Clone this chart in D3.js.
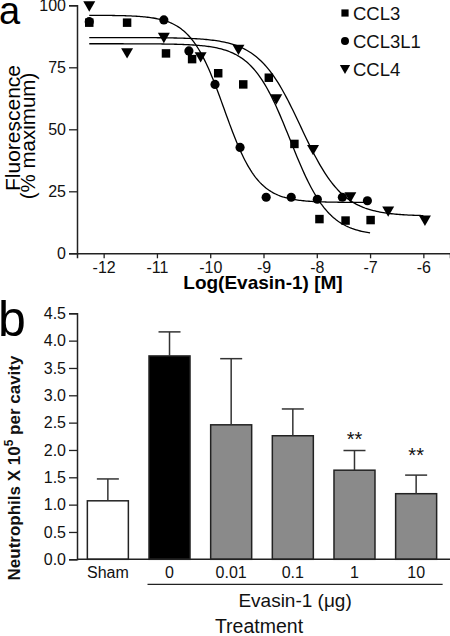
<!DOCTYPE html>
<html>
<head>
<meta charset="utf-8">
<script src="https://cdn.jsdelivr.net/npm/d3@7"></script>
<style>
  html, body { margin: 0; padding: 0; background: #fff; }
  svg { display: block; font-family: "Liberation Sans", Arial, sans-serif; }
</style>
</head>
<body>
<svg id="chart" width="450" height="636"></svg>
<script>
// ---------- Panel a data ----------
const seriesNames = ["CCL3", "CCL3L1", "CCL4"];
const ccl3X   = [-12.27, -11.56, -10.83, -10.34, -9.85, -9.38, -8.90, -8.42, -7.95, -7.46, -6.99];
const ccl3Y   = [93.0, 93.0, 80.6, 78.3, 72.6, 68.1, 70.8, 44.1, 13.8, 13.2, 13.4];
const ccl3l1X = [-12.27, -10.87, -10.40, -9.91, -9.44, -8.95, -8.48, -7.99, -7.52, -7.05];
const ccl3l1Y = [93.4, 94.1, 81.6, 68.1, 42.7, 22.6, 22.6, 21.8, 22.6, 21.2];
const ccl4X   = [-12.27, -11.56, -10.87, -10.18, -9.47, -8.76, -8.07, -7.37, -6.66, -5.97];
const ccl4Y   = [99.8, 80.9, 87.1, 79.3, 82.3, 62.3, 41.9, 22.8, 17.1, 13.4];
// fitted 4-parameter logistic curves: [top, bottom, logIC50, hill, xStart, xEnd]
const fitCCL3   = [84.5, 7.0, -8.5, 1.2, -12.27, -7.0];
const fitCCL3L1 = [96.0, 20.5, -9.74, 1.37, -12.27, -7.05];
const fitCCL4   = [87.0, 15.0, -8.3, 1.1, -12.27, -6.0];
const xTicksA = [-12, -11, -10, -9, -8, -7, -6];
const yTicksA = [0, 25, 50, 75, 100];

// ---------- Panel b data ----------
const groups   = ["Sham", "0", "0.01", "0.1", "1", "10"];
const means    = [1.07, 3.72, 2.46, 2.26, 1.63, 1.20];
const errTops  = [1.47, 4.16, 3.67, 2.75, 1.99, 1.54];
const fills    = ["#ffffff", "#000000", "#8a8a8a", "#8a8a8a", "#8a8a8a", "#8a8a8a"];
const sigMarks = ["", "", "", "", "**", "**"];
const sigLevel = [null, null, null, null, 2.25, 1.96];
const yTicksB  = [0, 0.5, 1.0, 1.5, 2.0, 2.5, 3.0, 3.5, 4.0, 4.5];

const svg = d3.select("#chart");
const ink = "#222";

// ================= PANEL A =================
const xA = d3.scaleLinear().domain([-12.5, -5.5]).range([77, 450]);
const yA = d3.scaleLinear().domain([0, 100]).range([253.3, 5.3]);

svg.append("text").attr("x", -1).attr("y", 24).attr("font-size", 38).text("a");

const gxA = svg.append("g").attr("transform", "translate(0,253.3)")
  .call(d3.axisBottom(xA).tickValues(xTicksA).tickSize(5).tickPadding(3).tickFormat(d => String(d)));
const gyA = svg.append("g").attr("transform", "translate(77,0)")
  .call(d3.axisLeft(yA).tickValues(yTicksA).tickSize(8).tickPadding(3));
[gxA, gyA].forEach(g => {
  g.select(".domain").attr("stroke", ink).attr("stroke-width", 1.5);
  g.selectAll(".tick line").attr("stroke", ink).attr("stroke-width", 1.3);
  g.selectAll(".tick text").attr("fill", "#111").attr("font-size", 16)
    .attr("font-family", "'Liberation Sans', Arial, sans-serif");
});

svg.append("text").attr("x", 263).attr("y", 288.5).attr("text-anchor", "middle")
  .attr("font-size", 19).attr("font-weight", "bold").text("Log(Evasin-1) [M]");
svg.append("text").attr("transform", "translate(19.5,128) rotate(-90)").attr("text-anchor", "middle")
  .attr("font-size", 21).text("Fluorescence");
svg.append("text").attr("transform", "translate(35,136) rotate(-90)").attr("text-anchor", "middle")
  .attr("font-size", 20.5).text("(% maximum)");

// fitted curves
const fits = [fitCCL3, fitCCL3L1, fitCCL4];
const line = d3.line().x(d => xA(d[0])).y(d => yA(d[1])).curve(d3.curveLinear);
fits.forEach(p => {
  const [top, bot, ic, h, x0, x1] = p;
  const pts = d3.range(0, 201).map(i => {
    const x = x0 + (x1 - x0) * i / 200;
    return [x, bot + (top - bot) / (1 + Math.pow(10, (x - ic) * h))];
  });
  svg.append("path").datum(pts).attr("d", line).attr("fill", "none")
    .attr("stroke", "#000").attr("stroke-width", 1.3);
});

// markers
const symbols = [
  d3.symbol().type(d3.symbolSquare).size(72),
  d3.symbol().type(d3.symbolCircle).size(66),
  d3.symbol().type(d3.symbolTriangle).size(62)
];
const rots = [0, 0, 180];
const dataA = [[ccl3X, ccl3Y], [ccl3l1X, ccl3l1Y], [ccl4X, ccl4Y]];
dataA.forEach((s, k) => {
  const pts = s[0].map((x, i) => [x, s[1][i]]);
  svg.append("g").selectAll("path").data(pts).join("path")
    .attr("d", symbols[k]())
    .attr("transform", d => `translate(${xA(d[0])},${yA(d[1]) + (k === 2 ? -1 : 0)}) rotate(${rots[k]})`)
    .attr("fill", "#000");
});

// legend
const legSyms = [
  d3.symbol().type(d3.symbolSquare).size(52),
  d3.symbol().type(d3.symbolCircle).size(50),
  d3.symbol().type(d3.symbolTriangle).size(46)
];
const leg = svg.append("g").attr("transform", "translate(345,13)");
seriesNames.forEach((n, i) => {
  leg.append("path").attr("d", legSyms[i]())
    .attr("transform", `translate(0,${i * 28 + (i === 2 ? -1 : 0)}) rotate(${rots[i]})`).attr("fill", "#000");
  leg.append("text").attr("x", 8).attr("y", i * 28 + 7).attr("font-size", 18.5).attr("fill", "#111").text(n);
});

// ================= PANEL B =================
const xB = d3.scaleBand().domain(groups).range([77, 447]).paddingInner(0.335).paddingOuter(0.168);
const yB = d3.scaleLinear().domain([0, 4.5]).range([559.3, 313.3]);

svg.append("text").attr("x", -2).attr("y", 336).attr("font-size", 50).text("b");

// bars
svg.append("g").selectAll("rect").data(groups).join("rect")
  .attr("x", d => xB(d)).attr("width", xB.bandwidth())
  .attr("y", (d, i) => yB(means[i])).attr("height", (d, i) => yB(0) - yB(means[i]))
  .attr("fill", (d, i) => fills[i]).attr("stroke", ink).attr("stroke-width", 1.5);

// error bars (upper only)
const eb = svg.append("g").attr("stroke", "#333").attr("stroke-width", 1.5);
groups.forEach((g, i) => {
  const cx = xB(g) + xB.bandwidth() / 2;
  eb.append("line").attr("x1", cx).attr("x2", cx).attr("y1", yB(means[i])).attr("y2", yB(errTops[i]));
  eb.append("line").attr("x1", cx - 11).attr("x2", cx + 11).attr("y1", yB(errTops[i])).attr("y2", yB(errTops[i]));
});

// significance
groups.forEach((g, i) => {
  if (!sigMarks[i]) return;
  svg.append("text").attr("x", xB(g) + xB.bandwidth() / 2).attr("y", yB(sigLevel[i]) + 10)
    .attr("text-anchor", "middle").attr("font-size", 20).attr("fill", "#111").text(sigMarks[i]);
});

// axes
const gyB = svg.append("g").attr("transform", "translate(77,0)")
  .call(d3.axisLeft(yB).tickValues(yTicksB).tickSize(8).tickPadding(3).tickFormat(d3.format(".1f")));
const gxB = svg.append("g").attr("transform", "translate(0,559.3)")
  .call(d3.axisBottom(xB).tickSize(0).tickPadding(7));
gxB.select(".domain").attr("d", "M77,0H450");
[gxB, gyB].forEach(g => {
  g.select(".domain").attr("stroke", ink).attr("stroke-width", 1.5);
  g.selectAll(".tick line").attr("stroke", ink).attr("stroke-width", 1.3);
  g.selectAll(".tick text").attr("fill", "#111").attr("font-size", 16)
    .attr("font-family", "'Liberation Sans', Arial, sans-serif");
});

// group underline + labels
const gx0 = xB("0") - 1.5, gx1 = xB("10") + xB.bandwidth() + 6;
svg.append("line").attr("x1", gx0).attr("x2", gx1).attr("y1", 584.3).attr("y2", 584.3)
  .attr("stroke", ink).attr("stroke-width", 1.2);
svg.append("text").attr("x", (gx0 + gx1) / 2).attr("y", 607).attr("text-anchor", "middle")
  .attr("font-size", 19).attr("fill", "#111").text("Evasin-1 (μg)");
svg.append("text").attr("x", 259).attr("y", 633).attr("text-anchor", "middle")
  .attr("font-size", 19.5).attr("fill", "#111").text("Treatment");

const yl = svg.append("text").attr("transform", "translate(20,468) rotate(-90)")
  .attr("text-anchor", "middle").attr("font-size", 17).attr("font-weight", "bold").attr("fill", "#111");
yl.append("tspan").text("Neutrophils X 10");
yl.append("tspan").attr("font-size", 12).attr("dy", -7).text("5");
yl.append("tspan").attr("dy", 7).text(" per cavity");
</script>
</body>
</html>
